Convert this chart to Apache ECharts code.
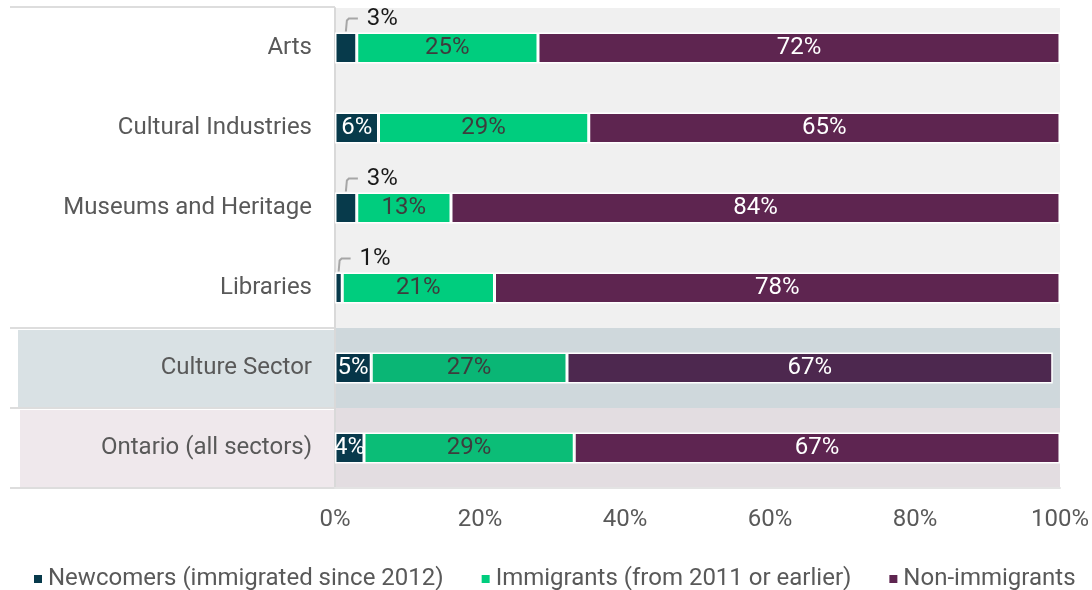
<!DOCTYPE html>
<html>
<head>
<meta charset="utf-8">
<script src="https://cdn.jsdelivr.net/npm/echarts@6/dist/echarts.min.js"></script>
<style>
  html, body { margin: 0; padding: 0; background: #ffffff; }
  #chart { width: 1092px; height: 590px; }
</style>
</head>
<body>
<div id="chart"></div>
<script>
// Workforce composition by immigration status, per sector (percent)
const categories = ['Arts', 'Cultural Industries', 'Museums and Heritage', 'Libraries', 'Culture Sector', 'Ontario (all sectors)'];
const newcomers = [3, 6, 3, 1, 5, 4];
const immigrants = [25, 29, 13, 21, 27, 29];
const nonImmigrants = [72, 65, 84, 78, 67, 67];
const seriesNames = ['Newcomers (immigrated since 2012)', 'Immigrants (from 2011 or earlier)', 'Non-immigrants'];
const xTicks = [0, 20, 40, 60, 80, 100];

// Segments too narrow for an inside label get a callout above the bar
const CALLOUT_MAX = 3;

const FONT = 'Roboto, "Noto Sans", sans-serif';
const FONT_SIZE = 24;
const GRID = { left: 335, right: 32, top: 8, bottom: 102 };
const CHART_H = 590;
const ROW_H = (CHART_H - GRID.top - GRID.bottom) / categories.length;
const BAR_W = 31;

// Base palette and the darker variants used on the two summary rows
const palette = {
  newcomers: ['#073a4b', '#073a4b', '#073a4b', '#073a4b', '#063548', '#093a4c'],
  immigrants: ['#00cd7e', '#00cd7e', '#00cd7e', '#00cd7e', '#0ab675', '#0bbd77'],
  nonImmigrants: ['#5e2550', '#5e2550', '#5e2550', '#5e2550', '#4d284f', '#5e2551']
};
const rowBands = ['#f0f0f0', '#f0f0f0', '#f0f0f0', '#f0f0f0', '#cfd8dc', '#e3dde1'];

function segData(values, colors, hideSmall) {
  return values.map((v, i) => ({
    value: v,
    itemStyle: { color: colors[i] },
    label: { show: !(hideSmall && v <= CALLOUT_MAX) }
  }));
}

const barBase = {
  type: 'bar',
  stack: 'total',
  barWidth: BAR_W,
  itemStyle: { borderColor: '#ffffff', borderWidth: 1.5 },
  label: {
    show: true,
    position: 'inside',
    formatter: '{c}%',
    fontFamily: FONT,
    fontSize: FONT_SIZE
  },
  emphasis: { disabled: true }
};

const calloutData = newcomers
  .map((v, i) => [v, i])
  .filter(d => d[0] <= CALLOUT_MAX);

const chart = echarts.init(document.getElementById('chart'), null, { renderer: 'canvas' });

// Left-hand label panel: separators and tinted cells for the summary rows
const leftLines = [0, 4, 5, 6].map(k => {
  const y = GRID.top + k * ROW_H - (k === 0 ? 1 : 0);
  return {
    type: 'line',
    z: -1,
    shape: { x1: 10, y1: y, x2: GRID.left, y2: y },
    style: { stroke: '#dddddd', lineWidth: 2 }
  };
});
const leftCells = [
  { row: 4, x: 18, color: '#d9e1e4' },
  { row: 5, x: 20, color: '#efe8ec' }
].map(c => ({
  type: 'rect',
  z: -2,
  shape: { x: c.x, y: GRID.top + c.row * ROW_H + 2, width: GRID.left - c.x, height: ROW_H - 3 },
  style: { fill: c.color }
}));

chart.setOption({
  animation: false,
  textStyle: { fontFamily: FONT },
  grid: { left: GRID.left, right: GRID.right, top: GRID.top, bottom: GRID.bottom, containLabel: false },
  graphic: leftCells.concat(leftLines),
  legend: {
    data: seriesNames,
    left: 27,
    top: 562,
    icon: 'rect',
    itemWidth: 10,
    itemHeight: 10,
    itemGap: 36,
    textStyle: { fontFamily: FONT, fontSize: FONT_SIZE, color: '#595959' }
  },
  xAxis: {
    type: 'value',
    min: xTicks[0],
    max: xTicks[xTicks.length - 1],
    interval: xTicks[1] - xTicks[0],
    axisLine: { show: true, lineStyle: { color: '#e3e3e3', width: 2 } },
    axisTick: { show: false },
    splitLine: { show: false },
    axisLabel: { formatter: '{value}%', fontFamily: FONT, fontSize: FONT_SIZE, color: '#595959', margin: 20 }
  },
  yAxis: {
    type: 'category',
    inverse: true,
    data: categories,
    axisLine: { show: true, lineStyle: { color: '#d9d9d9', width: 2 } },
    axisTick: { show: false },
    splitArea: { show: true, areaStyle: { color: rowBands } },
    axisLabel: { fontFamily: FONT, fontSize: FONT_SIZE, color: '#595959', margin: 23 }
  },
  series: [
    Object.assign({}, barBase, {
      name: seriesNames[0],
      color: palette.newcomers[0],
      data: segData(newcomers, palette.newcomers, true),
      label: Object.assign({}, barBase.label, { color: '#ffffff' })
    }),
    Object.assign({}, barBase, {
      name: seriesNames[1],
      color: palette.immigrants[0],
      data: segData(immigrants, palette.immigrants, false),
      label: Object.assign({}, barBase.label, { color: '#3d3d3d' })
    }),
    Object.assign({}, barBase, {
      name: seriesNames[2],
      color: palette.nonImmigrants[0],
      data: segData(nonImmigrants, palette.nonImmigrants, false),
      label: Object.assign({}, barBase.label, { color: '#ffffff' })
    }),
    {
      // elbow callouts for the narrow newcomer segments
      type: 'custom',
      name: 'callouts',
      coordinateSystem: 'cartesian2d',
      silent: true,
      z: 5,
      data: calloutData,
      renderItem: function (params, api) {
        const v = api.value(0);
        const p = api.coord([v / 2, api.value(1)]);
        const top = p[1] - BAR_W / 2;
        const x = p[0];
        const yElbow = top - 14;
        return {
          type: 'group',
          children: [
            {
              type: 'polyline',
              shape: { points: [[x, top - 1], [x + 1, yElbow + 2], [x + 3, yElbow], [x + 12, yElbow]] },
              style: { stroke: '#a6a6a6', lineWidth: 2, fill: null }
            },
            {
              type: 'text',
              style: {
                x: x + 21,
                y: yElbow,
                text: v + '%',
                fontFamily: FONT,
                fontSize: FONT_SIZE,
                fill: '#1a1a1a',
                textAlign: 'left',
                textVerticalAlign: 'middle'
              }
            }
          ]
        };
      }
    }
  ]
});
</script>
</body>
</html>
